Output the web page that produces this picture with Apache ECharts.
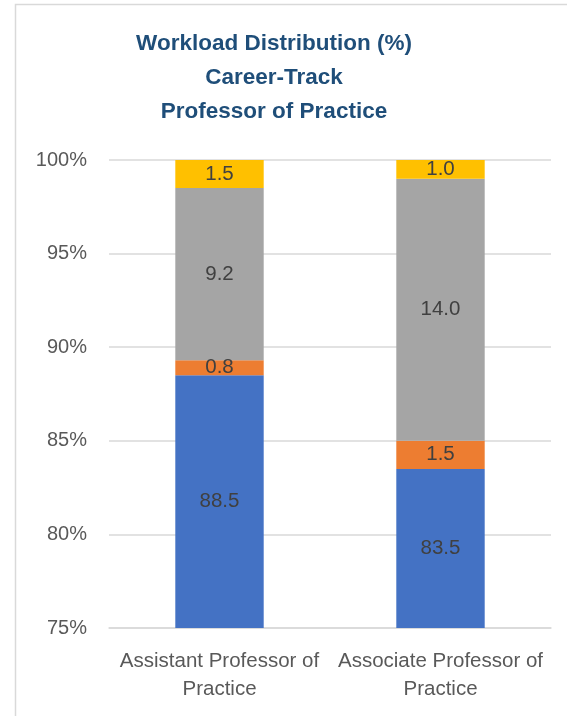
<!DOCTYPE html>
<html>
<head>
<meta charset="utf-8">
<style>
  html, body { margin: 0; padding: 0; background: #fff; }
  #chart { width: 567px; height: 716px; }
</style>
<script src="https://cdn.jsdelivr.net/npm/echarts@6/dist/echarts.min.js"></script>
</head>
<body>
<div id="chart"></div>
<script>
// Categories along the x axis
const categories = ['Assistant Professor of Practice', 'Associate Professor of Practice'];

// Stacked workload shares (%), bottom to top
const seriesNames = ['Series 1', 'Series 2', 'Series 3', 'Series 4'];
const series1 = [88.5, 83.5];
const series2 = [0.8, 1.5];
const series3 = [9.2, 14.0];
const series4 = [1.5, 1.0];
const seriesColors = ['#4472C4', '#ED7D31', '#A5A5A5', '#FFC000'];

// Y axis range and step
const yMin = 75, yMax = 100, yStep = 5;

const titleLines = ['Workload Distribution (%)', 'Career-Track', 'Professor of Practice'];

const chart = echarts.init(document.getElementById('chart'), null, { renderer: 'canvas' });

const values = [series1, series2, series3, series4];

const option = {
  animation: false,
  backgroundColor: '#ffffff',
  title: {
    text: titleLines.join('\n'),
    left: 269,
    top: 22,
    textAlign: 'center',
    textStyle: {
      fontFamily: 'Liberation Sans',
      fontWeight: 'bold',
      fontSize: 22.5,
      lineHeight: 34,
      color: '#1F4E79'
    }
  },
  graphic: [{
    type: 'rect',
    shape: { x: 15.5, y: 4.5, width: 700, height: 900 },
    style: { fill: 'none', stroke: '#D9D9D9', lineWidth: 1.5 },
    silent: true
  }],
  grid: { left: 109, right: 16, top: 160, bottom: 88, containLabel: false },
  xAxis: {
    type: 'category',
    data: categories,
    axisLine: { show: true, lineStyle: { color: '#D9D9D9', width: 1.5 } },
    axisTick: { show: false },
    axisLabel: {
      color: '#595959',
      fontFamily: 'Liberation Sans',
      fontSize: 20.5,
      lineHeight: 28,
      margin: 19,
      interval: 0,
      formatter: function (v) {
        const i = v.lastIndexOf(' ');
        return v.slice(0, i) + '\n' + v.slice(i + 1);
      }
    }
  },
  yAxis: {
    type: 'value',
    min: yMin,
    max: yMax,
    interval: yStep,
    axisLine: { show: false },
    axisTick: { show: false },
    splitLine: { lineStyle: { color: '#D9D9D9', width: 1.5 } },
    axisLabel: {
      color: '#595959',
      fontFamily: 'Liberation Sans',
      fontSize: 20,
      margin: 22,
      formatter: '{value}%'
    }
  },
  series: values.map(function (arr, k) {
    return {
      name: seriesNames[k],
      type: 'bar',
      stack: 'total',
      barWidth: '40%',
      data: arr,
      itemStyle: { color: seriesColors[k] },
      label: {
        show: true,
        position: 'inside',
        color: '#404040',
        fontFamily: 'Liberation Sans',
        fontSize: 20.5,
        formatter: function (p) { return p.value.toFixed(1); }
      }
    };
  })
};

chart.setOption(option);
</script>
</body>
</html>
